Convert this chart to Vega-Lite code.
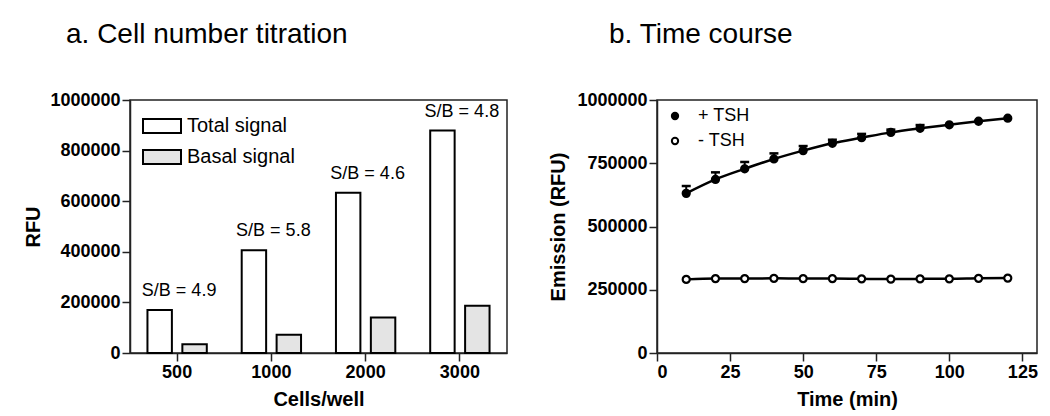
{
  "$schema": "https://vega.github.io/schema/vega-lite/v6.json",
  "padding": {"left": 23, "top": 20, "right": 5, "bottom": 5},
  "background": "white",
  "spacing": 40,
  "resolve": {"scale": {"fill": "independent"}, "legend": {"fill": "independent"}},
  "config": {
    "font": "Liberation Sans",
    "view": {"stroke": "#222", "strokeWidth": 1.5},
    "axis": {
      "grid": false,
      "domainColor": "#222",
      "domainWidth": 1.5,
      "tickColor": "#222",
      "tickWidth": 1.5,
      "tickSize": 8,
      "labelFont": "Liberation Sans",
      "labelFontSize": 18,
      "labelFontWeight": "bold",
      "labelColor": "black",
      "labelPadding": 2,
      "titleFont": "Liberation Sans",
      "titleFontSize": 20,
      "titleFontWeight": "bold",
      "titleColor": "black",
      "titlePadding": 8
    },
    "legend": {
      "padding": 0,
      "labelFont": "Liberation Sans",
      "labelColor": "black"
    }
  },
  "hconcat": [
    {
      "width": 377,
      "height": 253,
      "title": {"text": "a. Cell number titration", "anchor": "start", "frame": "group", "dx": -64, "fontSize": 28, "fontWeight": "normal", "color": "black", "offset": 42},
      "data": {
        "values": [
          {"cells": "500", "signal": "Total signal", "rfu": 170000, "label": "S/B = 4.9"},
          {"cells": "500", "signal": "Basal signal", "rfu": 35000, "label": ""},
          {"cells": "1000", "signal": "Total signal", "rfu": 406000, "label": "S/B = 5.8"},
          {"cells": "1000", "signal": "Basal signal", "rfu": 72000, "label": ""},
          {"cells": "2000", "signal": "Total signal", "rfu": 633000, "label": "S/B = 4.6"},
          {"cells": "2000", "signal": "Basal signal", "rfu": 140000, "label": ""},
          {"cells": "3000", "signal": "Total signal", "rfu": 879000, "label": "S/B = 4.8"},
          {"cells": "3000", "signal": "Basal signal", "rfu": 187000, "label": ""}
        ]
      },
      "layer": [
        {
          "mark": {"type": "bar", "stroke": "black", "strokeWidth": 2},
          "encoding": {
            "x": {"field": "cells", "type": "nominal", "sort": ["500", "1000", "2000", "3000"], "scale": {"paddingInner": 0, "paddingOuter": 0}, "axis": {"title": "Cells/well", "labelAngle": 0}},
            "xOffset": {"field": "signal", "type": "nominal", "sort": ["Total signal", "Basal signal"], "scale": {"paddingInner": 0.3, "paddingOuter": 0.5}},
            "y": {"field": "rfu", "type": "quantitative", "scale": {"domain": [0, 1000000], "nice": false}, "axis": {"title": "RFU", "titlePadding": 6, "values": [0, 200000, 400000, 600000, 800000, 1000000], "format": "d"}},
            "fill": {
              "field": "signal", "type": "nominal",
              "scale": {"domain": ["Total signal", "Basal signal"], "range": ["white", "#e4e4e4"]},
              "legend": {
                "title": null, "orient": "none", "legendX": 12, "legendY": 6,
                "symbolType": "M-1,-0.368H1V0.368H-1Z", "symbolSize": 1444,
                "symbolStrokeColor": "black", "symbolStrokeWidth": 2, "symbolOpacity": 1,
                "labelFontSize": 20, "labelOffset": 5, "rowPadding": -3
              }
            }
          }
        },
        {
          "transform": [{"filter": "datum.signal == 'Total signal'"}],
          "mark": {"type": "text", "fontSize": 18, "baseline": "alphabetic", "dy": -14, "dx": 2, "color": "black"},
          "encoding": {
            "x": {"field": "cells", "type": "nominal", "sort": ["500", "1000", "2000", "3000"]},
            "y": {"field": "rfu", "type": "quantitative"},
            "text": {"field": "label"}
          }
        }
      ]
    },
    {
      "width": 380,
      "height": 253,
      "title": {"text": "b. Time course", "anchor": "start", "frame": "group", "dx": -48, "fontSize": 28, "fontWeight": "normal", "color": "black", "offset": 42},
      "data": {
        "values": [
          {"t": 10, "series": "+ TSH", "rfu": 631000, "upper": 660000},
          {"t": 20, "series": "+ TSH", "rfu": 686000, "upper": 714000},
          {"t": 30, "series": "+ TSH", "rfu": 728000, "upper": 755000},
          {"t": 40, "series": "+ TSH", "rfu": 767000, "upper": 789000},
          {"t": 50, "series": "+ TSH", "rfu": 800000, "upper": 818000},
          {"t": 60, "series": "+ TSH", "rfu": 829000, "upper": 843000},
          {"t": 70, "series": "+ TSH", "rfu": 851000, "upper": 866000},
          {"t": 80, "series": "+ TSH", "rfu": 872000, "upper": 883000},
          {"t": 90, "series": "+ TSH", "rfu": 888000, "upper": 901000},
          {"t": 100, "series": "+ TSH", "rfu": 902000, "upper": null},
          {"t": 110, "series": "+ TSH", "rfu": 916000, "upper": null},
          {"t": 120, "series": "+ TSH", "rfu": 928000, "upper": null},
          {"t": 10, "series": "- TSH", "rfu": 291000, "upper": null},
          {"t": 20, "series": "- TSH", "rfu": 294000, "upper": null},
          {"t": 30, "series": "- TSH", "rfu": 294000, "upper": null},
          {"t": 40, "series": "- TSH", "rfu": 295000, "upper": null},
          {"t": 50, "series": "- TSH", "rfu": 294000, "upper": null},
          {"t": 60, "series": "- TSH", "rfu": 294000, "upper": null},
          {"t": 70, "series": "- TSH", "rfu": 293000, "upper": null},
          {"t": 80, "series": "- TSH", "rfu": 292000, "upper": null},
          {"t": 90, "series": "- TSH", "rfu": 293000, "upper": null},
          {"t": 100, "series": "- TSH", "rfu": 293000, "upper": null},
          {"t": 110, "series": "- TSH", "rfu": 295000, "upper": null},
          {"t": 120, "series": "- TSH", "rfu": 296000, "upper": null}
        ]
      },
      "encoding": {
        "x": {"field": "t", "type": "quantitative", "scale": {"domain": [0, 130], "nice": false}, "axis": {"title": "Time (min)", "values": [0, 25, 50, 75, 100, 125], "format": "d"}},
        "y": {"field": "rfu", "type": "quantitative", "scale": {"domain": [0, 1000000], "nice": false}, "axis": {"title": "Emission (RFU)", "values": [0, 250000, 500000, 750000, 1000000], "format": "d"}}
      },
      "layer": [
        {
          "transform": [{"filter": "datum.upper != null"}],
          "mark": {"type": "rule", "color": "black", "strokeWidth": 2},
          "encoding": {"y2": {"field": "upper"}}
        },
        {
          "transform": [{"filter": "datum.upper != null"}],
          "mark": {"type": "tick", "color": "black", "opacity": 1, "orient": "horizontal", "size": 9, "thickness": 2.5},
          "encoding": {"y": {"field": "upper", "type": "quantitative"}}
        },
        {
          "mark": {"type": "line", "color": "black", "strokeWidth": 2.5, "interpolate": "monotone"},
          "encoding": {"detail": {"field": "series", "type": "nominal"}}
        },
        {
          "mark": {"type": "point", "shape": "circle", "stroke": "black", "strokeWidth": 2.2, "opacity": 1, "size": 50, "filled": false},
          "encoding": {
            "fill": {
              "field": "series", "type": "nominal",
              "scale": {"domain": ["+ TSH", "- TSH"], "range": ["black", "white"]},
              "legend": {
                "title": null, "orient": "none", "legendX": 9, "legendY": 7,
                "symbolType": "circle", "symbolSize": 40,
                "symbolStrokeColor": "black", "symbolStrokeWidth": 2, "symbolOpacity": 1,
                "labelFontSize": 18, "labelOffset": 14, "rowPadding": 7
              }
            }
          }
        }
      ]
    }
  ]
}
